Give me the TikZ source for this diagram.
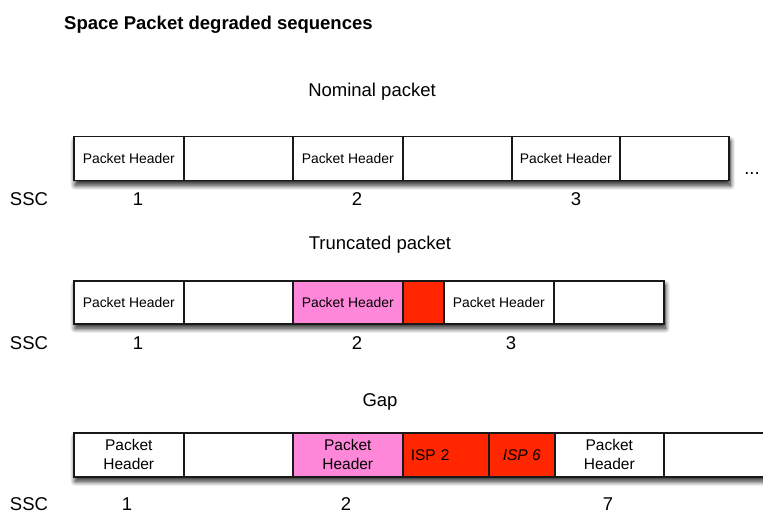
\documentclass[tikz,border=0pt]{standalone}
\usepackage{fontspec}
\setmainfont{Liberation Sans}
\usetikzlibrary{shadows.blur}
\definecolor{pinkc}{RGB}{255,135,218}
\definecolor{redc}{RGB}{255,38,0}
\definecolor{edgec}{RGB}{25,25,25}
\begin{document}
\begin{tikzpicture}[x=1pt,y=-1pt,
  cell/.style={draw=edgec, line width=1.5pt, fill=white, inner sep=0pt, anchor=north west,
    font=\fontsize{13.9}{16}\selectfont, text height=10pt, text depth=0pt},
  cellb/.style={cell, font=\fontsize{15.5}{19}\selectfont, align=center, text height=, text depth=},
  bar/.style={fill=white, inner sep=0pt, anchor=north west,
    blur shadow={shadow xshift=2pt, shadow yshift=-5pt, shadow blur radius=5pt, shadow blur steps=14, shadow opacity=90}},
  lbl/.style={inner sep=0pt, font=\fontsize{18.5}{22}\selectfont, text height=13.2pt, text depth=0pt},
  ttl/.style={lbl, font=\fontsize{18.5}{22}\selectfont\bfseries}
]
\useasboundingbox (0,0) rectangle (763,513);
\begin{scope}
\clip (0,0) rectangle (763,513);

% title and captions
\node[ttl, anchor=west] (title) at (64,23) {Space Packet degraded sequences};
\node[lbl] (cap1) at (372,90) {Nominal packet};
\node[lbl] (cap2) at (380,243) {Truncated packet};
\node[lbl] (cap3) at (380,400) {Gap};

% ---- row 1: nominal
\node[bar, minimum width=655pt, minimum height=44pt] (bar1) at (73,136) {};
\node[cell, minimum width=110pt, minimum height=44pt] (r1a) at (73,136) {Packet Header};
\node[cell, minimum width=109pt, minimum height=44pt] (r1b) at (183,136) {};
\node[cell, minimum width=110pt, minimum height=44pt] (r1c) at (292,136) {Packet Header};
\node[cell, minimum width=109pt, minimum height=44pt] (r1d) at (402,136) {};
\node[cell, minimum width=108pt, minimum height=44pt] (r1e) at (511,136) {Packet Header};
\node[cell, minimum width=109pt, minimum height=44pt] (r1f) at (619,136) {};
\node[lbl, anchor=base, text height=, text depth=] (dots) at (752,175) {...};
\node[lbl] (ssc1) at (29,199) {SSC};
\node[lbl] (n11) at (138,199) {1};
\node[lbl] (n12) at (357,199) {2};
\node[lbl] (n13) at (576,199) {3};

% ---- row 2: truncated
\node[bar, minimum width=590pt, minimum height=43pt] (bar2) at (73,280) {};
\node[cell, minimum width=110pt, minimum height=43pt] (r2a) at (73,280) {Packet Header};
\node[cell, minimum width=109pt, minimum height=43pt] (r2b) at (183,280) {};
\node[cell, minimum width=110pt, minimum height=43pt, fill=pinkc] (r2c) at (292,280) {Packet Header};
\node[cell, minimum width=41pt, minimum height=43pt, fill=redc] (r2d) at (402,280) {};
\node[cell, minimum width=110pt, minimum height=43pt] (r2e) at (443,280) {Packet Header};
\node[cell, minimum width=110pt, minimum height=43pt] (r2f) at (553,280) {};
\node[lbl] (ssc2) at (29,343) {SSC};
\node[lbl] (n21) at (138,343) {1};
\node[lbl] (n22) at (357,343) {2};
\node[lbl] (n23) at (511,343) {3};

% ---- row 3: gap
\node[bar, minimum width=720pt, minimum height=44pt] (bar3) at (73,432) {};
\node[cellb, minimum width=110pt, minimum height=44pt] (r3a) at (73,432) {Packet\\Header};
\node[cellb, minimum width=109pt, minimum height=44pt] (r3b) at (183,432) {};
\node[cellb, minimum width=110pt, minimum height=44pt, fill=pinkc] (r3c) at (292,432) {Packet\\Header};
\node[cellb, minimum width=86pt, minimum height=44pt, fill=redc, align=left, text width=70pt] (r3d) at (402,432) {ISP 2};
\node[cellb, minimum width=66pt, minimum height=44pt, fill=redc, font=\fontsize{15.5}{19}\selectfont\itshape] (r3e) at (488,432) {ISP 6};
\node[cellb, minimum width=109pt, minimum height=44pt] (r3f) at (554,432) {Packet\\Header};
\node[cellb, minimum width=140pt, minimum height=44pt] (r3g) at (663,432) {};
\node[lbl] (ssc3) at (29,503.5) {SSC};
\node[lbl] (n31) at (127,503.5) {1};
\node[lbl] (n32) at (346,503.5) {2};
\node[lbl] (n37) at (608,503.5) {7};
\end{scope}
\end{tikzpicture}
\end{document}
